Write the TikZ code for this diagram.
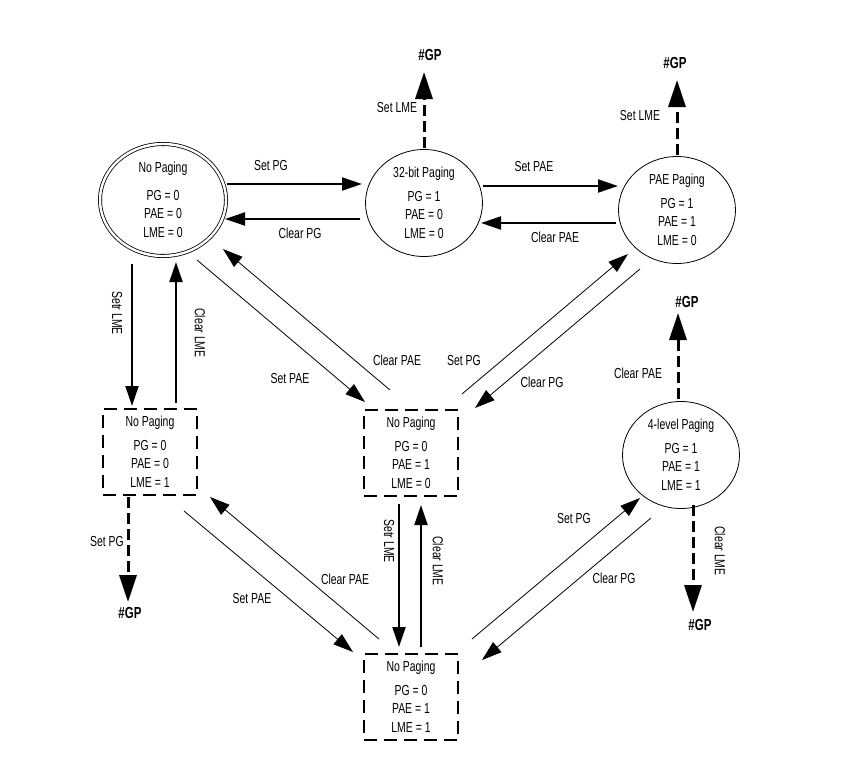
\documentclass[tikz,border=0pt]{standalone}
\usepackage{fontspec}
\setmainfont{Liberation Sans}[FakeStretch=0.72]
\usetikzlibrary{shapes.geometric, arrows.meta, calc}

\tikzset{
  every node/.style={font=\fontsize{14.5}{18.7}\selectfont, inner sep=0pt},
  state/.style={ellipse, draw, line width=0.8pt, minimum width=117pt, minimum height=107pt},
  startstate/.style={state, double, double distance=2.4pt, minimum width=126pt, minimum height=112pt},
  midstate/.style={rectangle, draw, line width=2.2pt, dash pattern=on 13pt off 7pt, minimum width=94pt, minimum height=86pt},
  statetext/.style={align=center},
  fault/.style={font=\fontsize{16}{18}\selectfont\bfseries},
  move/.style={-{Triangle[length=20pt,width=13pt]}, line width=2pt},
  slant/.style={-{Triangle[length=20pt,width=13pt]}, line width=0.8pt},
  trap/.style={-{Triangle[length=27pt,width=17pt]}, line width=3pt, dash pattern=on 11pt off 5pt},
}

\begin{document}
\begin{tikzpicture}[x=1pt, y=-1pt]
\useasboundingbox (0,0) rectangle (847,779);
% states
\node[startstate, label={[statetext]center:{No Paging\\[8.5pt]PG = 0\\PAE = 0\\LME = 0}}] (nopaging) at (163,200) {};
\node[state, label={[statetext]center:{32-bit Paging\\[4.5pt]PG = 1\\PAE = 0\\LME = 0}}] (bit32) at (424,203) {};
\node[state, label={[statetext]center:{PAE Paging\\[4.5pt]PG = 1\\PAE = 1\\LME = 0}}] (paepaging) at (677,210) {};
\node[midstate, label={[statetext]center:{No Paging\\[4.5pt]PG = 0\\PAE = 0\\LME = 1}}] (lmeset) at (150,452) {};
\node[midstate, label={[statetext]center:{No Paging\\[4.5pt]PG = 0\\PAE = 1\\LME = 0}}] (paeset) at (411,453) {};
\node[midstate, label={[statetext]center:{No Paging\\[4.5pt]PG = 0\\PAE = 1\\LME = 1}}] (paelme) at (411,697) {};
\node[state, label={[statetext]center:{4-level Paging\\[4.5pt]PG = 1\\PAE = 1\\LME = 1}}] (level4) at (681,455) {};
% faults
\node[fault] (gpa) at (430,55) {\#GP};
\node[fault] (gpb) at (675,63) {\#GP};
\node[fault] (gpc) at (687,302) {\#GP};
\node[fault] (gpd) at (700,625) {\#GP};
\node[fault] (gpe) at (130,613) {\#GP};
% top row
\draw[move] ($(nopaging)+(64,-16)$) -- ($(bit32)+(-62,-19)$);
\draw[move] ($(bit32)+(-64,16)$) -- ($(nopaging)+(62,19)$);
\draw[move] ($(bit32)+(59,-17)$) -- ($(paepaging)+(-59,-24)$);
\draw[move] ($(paepaging)+(-61,13)$) -- ($(bit32)+(57,20)$);
\draw[trap] ($(bit32)+(0,-55)$) -- ($(gpa)+(-6,17)$);
\draw[trap] ($(paepaging)+(0,-55)$) -- ($(gpb)+(2,17)$);
% left column
\draw[move] ($(nopaging)+(-31,64)$) -- ($(lmeset)+(-18,-46)$);
\draw[move] ($(lmeset)+(26,-49)$) -- ($(nopaging)+(13,62)$);
\draw[trap] ($(lmeset)+(-22,45)$) -- ($(gpe)+(-2,-11)$);
% diagonals
\draw[slant] ($(nopaging)+(34,60)$) -- ($(paeset)+(-46,-51)$);
\draw[slant] ($(paeset)+(-21,-63)$) -- ($(nopaging)+(60,49)$);
\draw[slant] ($(paeset)+(51,-59)$) -- ($(paepaging)+(-49,44)$);
\draw[slant] ($(paepaging)+(-37,59)$) -- ($(paeset)+(64,-45)$);
\draw[slant] ($(lmeset)+(34,59)$) -- ($(paelme)+(-58,-45)$);
\draw[slant] ($(paelme)+(-32,-58)$) -- ($(lmeset)+(60,45)$);
\draw[slant] ($(paelme)+(61,-58)$) -- ($(level4)+(-41,43)$);
\draw[slant] ($(level4)+(-30,63)$) -- ($(paelme)+(71,-37)$);
% middle column
\draw[move] ($(paeset)+(-12,51)$) -- ($(paelme)+(-12,-50)$);
\draw[move] ($(paelme)+(10,-50)$) -- ($(paeset)+(10,52)$);
% right column
\draw[trap] ($(level4)+(-3,-56)$) -- ($(gpc)+(-9,11)$);
\draw[trap] ($(level4)+(12,50)$) -- ($(gpd)+(-7,-13)$);
% labels
\node (lsetpga) at (271,166) {Set PG};
\node (lclrpga) at (300,233) {Clear PG};
\node (lsetpaea) at (534,167) {Set PAE};
\node (lclrpaea) at (555,237) {Clear PAE};
\node (lsetlmea) at (397,108) {Set LME};
\node (lsetlmeb) at (640,116) {Set LME};
\node[rotate=-90] (lsetlmec) at (117,313) {Setr LME};
\node[rotate=-90] (lclrlmea) at (200,333) {Clear LME};
\node (lsetpaeb) at (290,379) {Set PAE};
\node (lclrpaeb) at (397,360) {Clear PAE};
\node (lsetpgb) at (464,361) {Set PG};
\node (lclrpgb) at (542,382) {Clear PG};
\node (lsetpgc) at (107,542) {Set PG};
\node (lsetpaec) at (252,599) {Set PAE};
\node (lclrpaec) at (345,579) {Clear PAE};
\node[rotate=-90] (lsetlmed) at (389,541) {Setr LME};
\node[rotate=-90] (lclrlmeb) at (438,561) {Clear LME};
\node (lsetpgd) at (574,519) {Set PG};
\node (lclrpgd) at (614,578) {Clear PG};
\node (lclrpaed) at (638,373) {Clear PAE};
\node[rotate=-90] (lclrlmec) at (720,551) {Clear LME};
\end{tikzpicture}
\end{document}
